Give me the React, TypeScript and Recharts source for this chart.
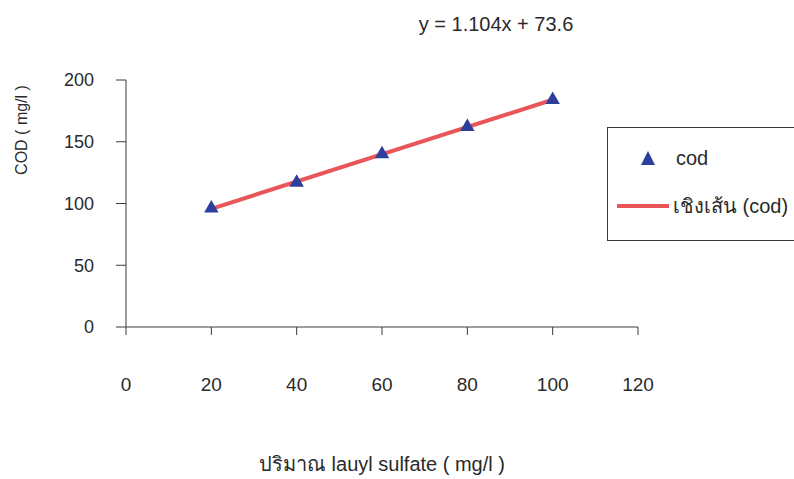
import React from "react";
import {
  ComposedChart,
  Scatter,
  Line,
  XAxis,
  YAxis,
  ZAxis,
  Legend,
} from "recharts";

// measured points
const doses = [20, 40, 60, 80, 100];
const codValues = [96, 117, 140, 162, 184];

// linear trend line end points (y = 1.104x + 73.6)
const trendX = [20, 100];
const trendValues = [95.7, 184];

const xTicks = [0, 20, 40, 60, 80, 100, 120];
const yTicks = [0, 50, 100, 150, 200];

const equation = "y = 1.104x + 73.6";
const xTitle = "ปริมาณ lauyl sulfate ( mg/l )";
const yTitle = "COD ( mg/l )";
const pointName = "cod";
const trendName = "เชิงเส้น (cod)";

const codData = doses.map((x, i) => ({ x, y: codValues[i] }));
const trendData = trendX.map((x, i) => ({ x, y: trendValues[i] }));

const font = "'Liberation Sans', Arial, sans-serif";
const axisColor = "#3a3a3a";
const textColor = "#2a2a2a";
const pointColor = "#2d3e9c";
const lineColor = "#e8565a";

const CustomLegend = () => (
  <div
    style={{
      width: 215,
      height: 114,
      border: `1.5px solid ${axisColor}`,
      boxSizing: "border-box",
      background: "#fff",
      position: "relative",
    }}
  >
    <svg width={215} height={114} style={{ position: "absolute", left: -1, top: -1 }}>
      <polygon points="41,24 34,38 48,38" fill={pointColor} />
      <text x={69} y={38} fontSize={20} fill={textColor} fontFamily={font}>
        {pointName}
      </text>
      <line x1={10} x2={62} y1={79} y2={79} stroke={lineColor} strokeWidth={4} />
      <text x={66} y={86} fontSize={20} fill={textColor} fontFamily={font}>
        {trendName}
      </text>
    </svg>
  </div>
);

const App = () => {
  return (
    <div style={{ position: "absolute", left: 0, top: 0, width: 794, height: 479, background: "#fff", overflow: "hidden" }}>
      <div
        style={{
          position: "absolute",
          left: 496,
          top: 13,
          transform: "translateX(-50%)",
          fontFamily: font,
          fontSize: 20,
          color: textColor,
          whiteSpace: "nowrap",
          zIndex: 2,
        }}
      >
        {equation}
      </div>
      <ComposedChart
        width={794}
        height={479}
        margin={{ top: 80, right: 156, bottom: 0, left: 0 }}
      >
        <XAxis
          type="number"
          dataKey="x"
          domain={[0, 120]}
          ticks={xTicks}
          allowDataOverflow
          stroke={axisColor}
          tickSize={8}
          tickMargin={43}
          height={152}
          tick={{ fill: textColor, fontSize: 19, fontFamily: font }}
          label={{
            value: xTitle,
            position: "insideBottom",
            offset: 8,
            fill: textColor,
            fontSize: 20,
            fontFamily: font,
          }}
        />
        <YAxis
          type="number"
          dataKey="y"
          domain={[0, 200]}
          ticks={yTicks}
          stroke={axisColor}
          tickSize={10}
          tickMargin={22}
          width={126}
          tick={{ fill: textColor, fontSize: 18, fontFamily: font }}
          label={{
            content: () => (
              <text
                x={27}
                y={130}
                transform="rotate(-90 27 130)"
                textAnchor="middle"
                fill={textColor}
                fontSize={16}
                fontFamily={font}
              >
                {yTitle}
              </text>
            ),
          }}
        />
        <ZAxis range={[90, 90]} />
        <Line
          data={trendData}
          dataKey="y"
          name={trendName}
          type="linear"
          stroke={lineColor}
          strokeWidth={4}
          dot={false}
          activeDot={false}
          isAnimationActive={false}
        />
        <Scatter
          data={codData}
          dataKey="y"
          name={pointName}
          shape="triangle"
          fill={pointColor}
          isAnimationActive={false}
        />
        <Legend
          layout="vertical"
          align="center"
          verticalAlign="middle"
          content={() => <CustomLegend />}
          wrapperStyle={{ position: "absolute", left: 607, top: 127, width: 215, height: 114 }}
        />
      </ComposedChart>
    </div>
  );
};

export default App;
